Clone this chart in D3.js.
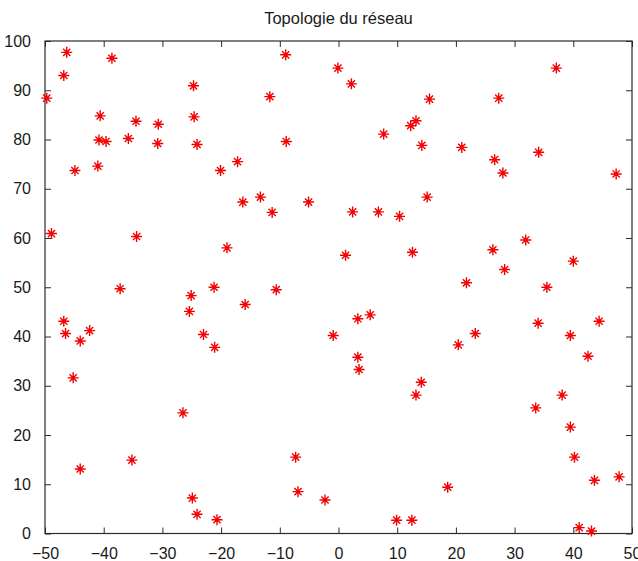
<!DOCTYPE html>
<html>
<head>
<meta charset="utf-8">
<script src="https://cdn.jsdelivr.net/npm/d3@7"></script>
<style>
  html, body { margin: 0; padding: 0; background: #ffffff; }
  svg { display: block; }
  text { font-family: "Liberation Sans", Arial, sans-serif; fill: #1a1a1a; }
</style>
</head>
<body>
<div id="chart"></div>
<script>
// Node positions of the network (x in [-50, 50], y in [0, 100])
const nodeX = [
  -49.7, -46.3, -46.8, -38.6, -44.9, -40.6, -40.8, -39.6, -41.0, -35.8,
  -34.5, -30.7, -30.8, -24.7, -24.6, -24.1, -20.1, -17.2, -11.7, -9.0,
  -8.9, -16.3, -13.3, -11.3, -5.1, -48.9, -34.4, -19.0, -37.2, -25.1,
  -21.2, -10.6, -25.4, -15.9, -46.8, -46.5, -42.4, -44.0, -23.0, -21.1,
  -45.2, -26.5, -44.0, -35.2, -24.9, -24.1, -20.7, -7.3, -6.9, -2.3,
  -0.1, 2.2, 15.5, 27.3, 37.1, 7.7, 12.3, 13.2, 14.2, 21.0,
  26.6, 28.0, 34.1, 47.3, 15.1, 2.4, 6.8, 10.4, 1.2, 12.6,
  26.3, 31.9, 28.3, 40.0, 21.8, 35.5, 3.3, 5.4, -0.9, 23.3,
  20.4, 34.0, 44.4, 39.5, 42.5, 3.3, 3.5, 14.1, 13.2, 33.6,
  38.1, 39.5, 40.2, 43.6, 47.8, 18.6, 9.9, 12.5, 41.0, 43.1
];
const nodeY = [
  88.4, 97.7, 93.0, 96.5, 73.7, 84.8, 79.9, 79.6, 74.6, 80.2,
  83.7, 83.1, 79.2, 90.9, 84.6, 79.0, 73.7, 75.5, 88.7, 97.2,
  79.6, 67.3, 68.3, 65.2, 67.3, 60.9, 60.3, 58.0, 49.7, 48.3,
  50.0, 49.5, 45.1, 46.5, 43.1, 40.6, 41.2, 39.1, 40.4, 37.8,
  31.6, 24.5, 13.1, 14.9, 7.2, 3.9, 2.8, 15.5, 8.5, 6.8,
  94.5, 91.3, 88.2, 88.4, 94.5, 81.1, 82.8, 83.8, 78.8, 78.4,
  75.9, 73.2, 77.4, 73.0, 68.3, 65.3, 65.3, 64.4, 56.5, 57.1,
  57.6, 59.6, 53.6, 55.3, 50.9, 50.0, 43.6, 44.4, 40.2, 40.6,
  38.3, 42.7, 43.1, 40.2, 36.0, 35.8, 33.3, 30.7, 28.1, 25.5,
  28.1, 21.6, 15.5, 10.8, 11.5, 9.4, 2.7, 2.7, 1.2, 0.5
];
const xTicks = [-50, -40, -30, -20, -10, 0, 10, 20, 30, 40, 50];
const yTicks = [0, 10, 20, 30, 40, 50, 60, 70, 80, 90, 100];
const chartTitle = "Topologie du réseau";

const W = 638, H = 561;
const margin = { top: 41, right: 6, bottom: 27.5, left: 45 };
const iw = W - margin.left - margin.right;
const ih = H - margin.top - margin.bottom;

const svg = d3.select("#chart").append("svg")
  .attr("width", W).attr("height", H);

const x = d3.scaleLinear().domain([-50, 50]).range([0, iw]);
const y = d3.scaleLinear().domain([0, 100]).range([ih, 0]);

const g = svg.append("g").attr("transform", `translate(${margin.left},${margin.top})`);

const axisColor = "#2b2b2b";
const tickLen = 6;

// inward ticks on all four sides, labels only on bottom and left
function styleAxis(sel) {
  sel.select(".domain").remove();
  sel.selectAll(".tick line").attr("stroke", axisColor).attr("stroke-width", 1);
  sel.selectAll(".tick text")
    .attr("font-size", 16)
    .style("fill", "#1a1a1a");
}

g.append("g").attr("transform", `translate(0,${ih})`)
  .call(d3.axisBottom(x).tickValues(xTicks).tickSizeInner(-tickLen).tickSizeOuter(0).tickPadding(14)
    .tickFormat(d3.format("d")))
  .call(styleAxis);

g.append("g")
  .call(d3.axisTop(x).tickValues(xTicks).tickSizeInner(-tickLen).tickSizeOuter(0).tickFormat(""))
  .call(styleAxis);

g.append("g")
  .call(d3.axisLeft(y).tickValues(yTicks).tickSizeInner(-tickLen).tickSizeOuter(0).tickPadding(14)
    .tickFormat(d3.format("d")))
  .call(styleAxis);

g.append("g").attr("transform", `translate(${iw},0)`)
  .call(d3.axisRight(y).tickValues(yTicks).tickSizeInner(-tickLen).tickSizeOuter(0).tickFormat(""))
  .call(styleAxis);

// axes box
g.append("rect")
  .attr("x", 0).attr("y", 0).attr("width", iw).attr("height", ih)
  .attr("fill", "none").attr("stroke", axisColor).attr("stroke-width", 1.2);

// asterisk markers
const armPlus = 5.5, armDiag = 3.6;
const starPath =
  `M${-armPlus},0H${armPlus}M0,${-armPlus}V${armPlus}` +
  `M${-armDiag},${-armDiag}L${armDiag},${armDiag}M${-armDiag},${armDiag}L${armDiag},${-armDiag}`;

const nodes = nodeX.map((v, i) => ({ x: v, y: nodeY[i] }));

g.append("g").selectAll("path.node")
  .data(nodes)
  .join("path")
  .attr("class", "node")
  .attr("transform", d => `translate(${x(d.x)},${y(d.y)})`)
  .attr("d", starPath)
  .attr("fill", "none")
  .attr("stroke", "#ee0000")
  .attr("stroke-width", 1.4);

g.append("g").selectAll("circle.core")
  .data(nodes)
  .join("circle")
  .attr("class", "core")
  .attr("cx", d => x(d.x)).attr("cy", d => y(d.y))
  .attr("r", 1.8)
  .attr("fill", "#ff0000");

// title
svg.append("text")
  .attr("x", margin.left + iw / 2)
  .attr("y", 24)
  .attr("text-anchor", "middle")
  .attr("font-size", 16.5)
  .text(chartTitle);
</script>
</body>
</html>
